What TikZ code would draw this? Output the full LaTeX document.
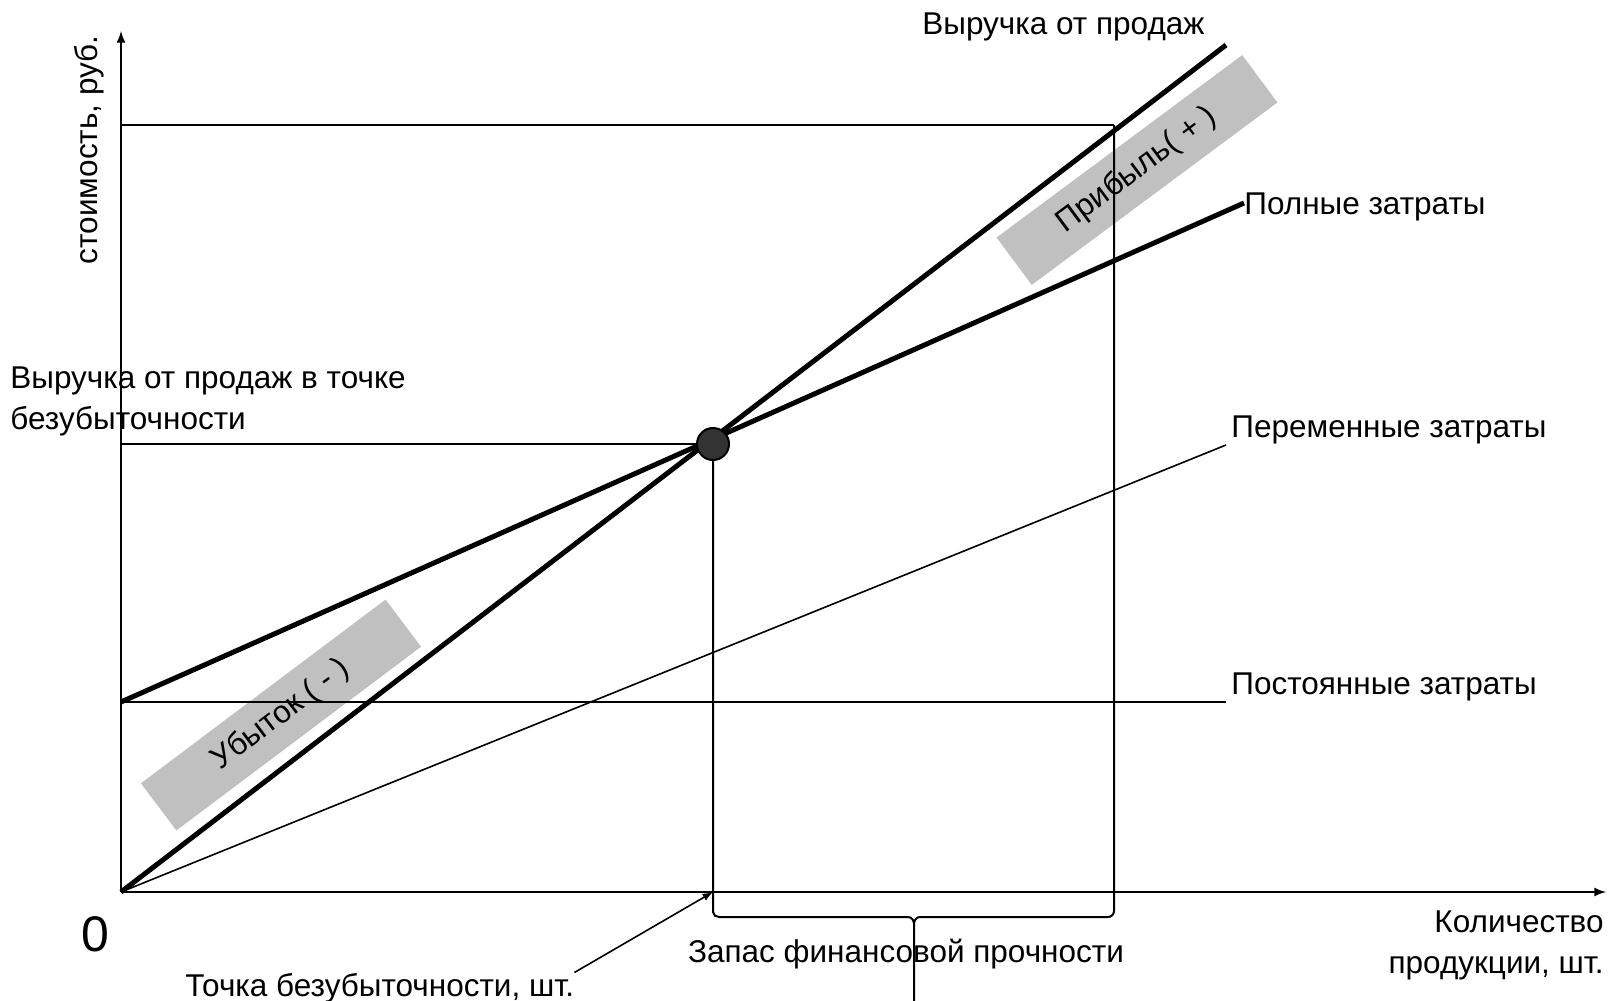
\documentclass[tikz,border=0pt]{standalone}
\usepackage{fontspec}
\setmainfont{Liberation Sans}
\usetikzlibrary{arrows}
\definecolor{zonegray}{HTML}{C0C0C0}
\definecolor{dotgray}{HTML}{333333}
\tikzstyle{lbl} = [inner sep=0pt, font=\fontsize{15.75}{20.5}\selectfont]
\tikzstyle{zone} = [rectangle, minimum width=153pt, minimum height=29.5pt, inner sep=0pt, text centered, fill=zonegray, font=\fontsize{15.75}{20.5}\selectfont]
\tikzstyle{dot} = [circle, minimum size=16pt, inner sep=0pt, draw=black, line width=1pt, fill=dotgray]
\tikzstyle{heavy} = [line width=2.5pt]
\tikzstyle{guide} = [line width=1pt]
\tikzstyle{axis} = [line width=1pt,->,>=latex]
\tikzstyle{arrow} = [line width=0.8pt,->,>=latex]

\begin{document}
\begin{tikzpicture}[x=0.5pt, y=-0.5pt]
\useasboundingbox (0,0) rectangle (1612,1001);

%Points
\coordinate (O) at (121,892);
\coordinate (ytop) at (121,31);
\coordinate (xend) at (1606,892);
\coordinate (BE) at (713,444);
\coordinate (BEx) at (713,892);
\coordinate (beY) at (121,444);
\coordinate (topY) at (121,125);
\coordinate (topX) at (1114,125);
\coordinate (revEnd) at (1226,45);
\coordinate (tcStart) at (121,702);
\coordinate (tcEnd) at (1244,203);
\coordinate (vcEnd) at (1226,445);
\coordinate (fxEnd) at (1226,702);

%Zones
\node (profit) [zone, rotate=36.6] at (1137,170) {Прибыль( + )};
\node (loss) [zone, rotate=36.9] at (281,715) {Убыток ( - )};

%Axes
\draw [axis] (O) -- (ytop);
\draw [axis] (O) -- (xend);

%Guides
\draw [guide] (topY) -- (topX);
\draw [guide] (beY) -- (BE);
\draw [guide] (tcStart) -- (fxEnd);
\draw [line width=0.8pt] (O) -- (vcEnd);

%Brace
\draw [guide] (BE) -- (713,912) to[out=-90,in=180] (719,917) -- (908,917) to[out=0,in=90] (914,924) -- (914,1001);
\draw [guide] (914,924) to[out=90,in=180] (920,917) -- (1108,917) to[out=0,in=-90] (1114,911) -- (topX);

%Lines
\draw [heavy] (O) -- (revEnd);
\draw [heavy] (tcStart) -- (tcEnd);
\node (bep) [dot] at (BE) {};

%Labels
\node (revLbl) [lbl, anchor=base west] at (922,34) {Выручка от продаж};
\node (tcLbl) [lbl, anchor=base west] at (1244,214) {Полные затраты};
\node (vcLbl) [lbl, anchor=base west] at (1231,437) {Переменные затраты};
\node (fxLbl) [lbl, anchor=base west] at (1231,694) {Постоянные затраты};
\node (beRevLbl) [lbl, anchor=base west, align=left] at (10,429) {Выручка от продаж в точке\\безубыточности};
\node (costLbl) [lbl, rotate=90, anchor=base] at (97,150) {стоимость, руб.};
\node (zero) [lbl, anchor=base, font=\fontsize{25}{30}\selectfont] at (95,951) {0};
\node (beLbl) [lbl, anchor=base west] at (185,996) {Точка безубыточности, шт.};
\node (msLbl) [lbl, anchor=base] at (906,962) {Запас финансовой прочности};
\node (qLbl) [lbl, anchor=base east, align=right] at (1604,973) {Количество\\продукции, шт.};

%arrows
\draw [arrow] (beLbl.north east) -- (BEx);

\end{tikzpicture}
\end{document}
